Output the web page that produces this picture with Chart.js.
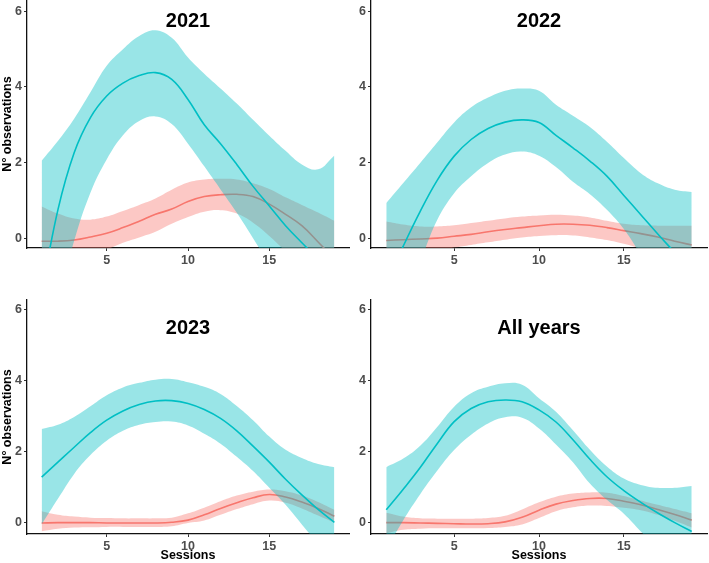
<!DOCTYPE html>
<html><head><meta charset="utf-8">
<script src="https://cdn.jsdelivr.net/npm/chart.js@4.4.1/dist/chart.umd.min.js"></script>
<style>
html,body{margin:0;padding:0;background:#fff;}
#wrap{position:relative;width:709px;height:563px;overflow:hidden;background:#fff;}
canvas{position:absolute;}
</style></head><body>
<div id="wrap">
<canvas id="c1" width="355" height="280" style="left:0px;top:0px"></canvas>
<canvas id="c2" width="354" height="280" style="left:355px;top:0px"></canvas>
<canvas id="c3" width="355" height="283" style="left:0px;top:280px"></canvas>
<canvas id="c4" width="354" height="283" style="left:355px;top:280px"></canvas>
</div>
<script>
const sessions = [1,2,3,4,5,6,7,8,9,10,11,12,13,14,15,16,17,18,19];
const xTicks = [5,10,15];
const yTicks = [0,2,4,6];
const panelTitles = ['2021','2022','2023','All years'];
const xTitle = 'Sessions';
const yTitle = 'N° observations';

// 2021
const cyan21Fit = [-1.45,0.75,2.26,3.19,3.76,4.1,4.3,4.38,4.2,3.67,3.0,2.5,1.95,1.37,0.85,0.33,-0.12,-0.55,-0.95];
const cyan21Hi  = [2.05,2.57,3.16,3.86,4.56,5.0,5.35,5.5,5.3,4.78,4.35,3.96,3.56,3.13,2.71,2.31,1.95,1.82,2.19];
const cyan21Lo  = [-3.5,-1.7,-0.07,1.2,2.08,2.72,3.1,3.22,3.02,2.5,1.9,1.29,0.67,0.0,-0.7,-1.4,-2.2,-3.0,-3.9];
const red21Fit  = [-0.08,-0.08,-0.05,0.03,0.13,0.28,0.45,0.63,0.77,0.97,1.1,1.15,1.16,1.1,0.9,0.63,0.33,-0.1,-0.55];
const red21Hi   = [0.84,0.65,0.52,0.49,0.57,0.72,0.88,1.05,1.28,1.47,1.55,1.57,1.55,1.45,1.3,1.08,0.88,0.68,0.46];
const red21Lo   = [-1.0,-0.8,-0.6,-0.45,-0.3,-0.12,0.02,0.17,0.38,0.56,0.7,0.74,0.65,0.41,0.06,-0.35,-0.75,-1.15,-1.55];

// 2022
const cyan22Fit = [-1.2,-0.21,0.71,1.53,2.17,2.61,2.9,3.07,3.13,3.06,2.72,2.39,2.04,1.64,1.13,0.62,0.11,-0.38,-0.88];
const cyan22Hi  = [0.93,1.46,1.99,2.53,3.06,3.46,3.72,3.9,3.96,3.9,3.53,3.24,2.94,2.55,2.12,1.72,1.45,1.28,1.22];
const cyan22Lo  = [-2.4,-1.5,-0.6,0.48,1.19,1.64,1.99,2.21,2.29,2.18,1.88,1.49,1.16,0.75,0.24,-0.45,-1.2,-1.9,-2.6];
const red22Fit  = [-0.06,-0.04,-0.02,0.0,0.05,0.1,0.17,0.23,0.28,0.33,0.37,0.37,0.34,0.28,0.2,0.12,0.03,-0.08,-0.18];
const red22Hi   = [0.44,0.36,0.31,0.31,0.34,0.4,0.46,0.52,0.57,0.6,0.62,0.6,0.55,0.46,0.38,0.34,0.33,0.33,0.33];
const red22Lo   = [-0.6,-0.5,-0.4,-0.32,-0.25,-0.18,-0.11,-0.04,0.02,0.06,0.08,0.07,0.02,-0.05,-0.15,-0.28,-0.42,-0.58,-0.75];

// 2023
const cyan23Fit = [1.28,1.7,2.12,2.53,2.88,3.14,3.32,3.42,3.43,3.35,3.18,2.93,2.58,2.15,1.7,1.22,0.78,0.37,0.01];
const cyan23Hi  = [2.63,2.75,2.97,3.27,3.58,3.8,3.93,4.02,4.04,3.95,3.82,3.62,3.28,2.88,2.42,2.05,1.82,1.65,1.56];
const cyan23Lo  = [-0.05,0.67,1.37,1.9,2.3,2.58,2.75,2.83,2.84,2.73,2.5,2.22,1.85,1.45,0.98,0.5,-0.05,-0.6,-1.2];
const red23Fit  = [-0.01,0.0,0.0,0.0,-0.01,-0.01,-0.01,-0.01,0.01,0.07,0.22,0.4,0.56,0.7,0.79,0.72,0.58,0.4,0.18];
const red23Hi   = [0.32,0.22,0.17,0.14,0.13,0.12,0.12,0.12,0.14,0.26,0.42,0.6,0.76,0.87,0.93,0.88,0.76,0.58,0.36];
const red23Lo   = [-0.24,-0.17,-0.14,-0.13,-0.12,-0.12,-0.12,-0.12,-0.1,-0.01,0.06,0.22,0.38,0.52,0.62,0.56,0.4,0.2,0.0];

// All years
const cyanAllFit = [0.36,0.94,1.55,2.22,2.84,3.21,3.4,3.45,3.4,3.17,2.83,2.33,1.78,1.29,0.9,0.57,0.27,0.0,-0.25];
const cyanAllHi  = [1.56,1.8,2.16,2.69,3.26,3.64,3.82,3.92,3.88,3.5,3.12,2.6,2.05,1.58,1.24,1.06,0.98,0.98,1.03];
const cyanAllLo  = [-0.75,0.07,0.8,1.46,2.04,2.47,2.79,2.96,2.95,2.65,2.2,1.7,1.1,0.64,0.25,-0.25,-0.75,-1.3,-1.9];
const redAllFit  = [0.0,0.0,-0.01,-0.02,-0.03,-0.04,-0.03,0.02,0.15,0.35,0.52,0.62,0.68,0.68,0.6,0.5,0.37,0.23,0.07];
const redAllHi   = [0.28,0.17,0.12,0.11,0.11,0.11,0.13,0.19,0.37,0.57,0.73,0.82,0.85,0.84,0.75,0.62,0.5,0.38,0.26];
const redAllLo   = [-0.3,-0.2,-0.17,-0.16,-0.16,-0.16,-0.15,-0.12,-0.05,0.13,0.32,0.43,0.48,0.47,0.42,0.35,0.22,0.05,-0.14];

const CYAN = '#00BFC4', RED = '#F8766D';
const CYAN_BAND = 'rgba(0,191,196,0.4)', RED_BAND = 'rgba(248,118,109,0.4)';
const FONT = '"Liberation Sans", Arial, Helvetica, sans-serif';

function xy(vals){ return sessions.map((s,i)=>({x:s,y:vals[i]})); }

const panelTitlePlugin = {
  id: 'panelTitle',
  afterDraw(chart, args, opts) {
    const {ctx, chartArea} = chart;
    ctx.save();
    ctx.font = 'bold 20px ' + FONT;
    ctx.fillStyle = '#000';
    ctx.textAlign = 'center';
    ctx.textBaseline = 'middle';
    ctx.fillText(opts.text, (chartArea.left + chartArea.right) / 2, opts.y);
    ctx.restore();
  }
};

function makeDatasets(cFit, cHi, cLo, rFit, rHi, rLo) {
  const base = {pointRadius:0, pointHoverRadius:0, tension:0.4, capBezierPoints:false};
  return [
    Object.assign({label:'Group 2', data:xy(cFit), borderColor:CYAN, borderWidth:1.6, fill:false}, base),
    Object.assign({label:'Group 2 upper', data:xy(cHi), borderColor:'rgba(0,0,0,0)', borderWidth:0, backgroundColor:CYAN_BAND, fill:'+1'}, base),
    Object.assign({label:'Group 2 lower', data:xy(cLo), borderColor:'rgba(0,0,0,0)', borderWidth:0, fill:false}, base),
    Object.assign({label:'Group 1', data:xy(rFit), borderColor:RED, borderWidth:1.6, fill:false}, base),
    Object.assign({label:'Group 1 upper', data:xy(rHi), borderColor:'rgba(0,0,0,0)', borderWidth:0, backgroundColor:RED_BAND, fill:'+1'}, base),
    Object.assign({label:'Group 1 lower', data:xy(rLo), borderColor:'rgba(0,0,0,0)', borderWidth:0, fill:false}, base)
  ];
}

function makeChart(id, title, titleY, sets, cfg) {
  const tickFont = {family:FONT, weight:'bold', size:12.5};
  new Chart(document.getElementById(id), {
    type: 'line',
    data: {datasets: sets},
    plugins: [panelTitlePlugin],
    options: {
      responsive: false,
      animation: false,
      events: [],
      layout: {autoPadding:false, padding:{left:0, top:cfg.padTop, right:cfg.padRight, bottom:0}},
      plugins: {
        legend: {display:false},
        tooltip: {enabled:false},
        panelTitle: {text:title, y:titleY}
      },
      scales: {
        x: {
          type: 'linear', min: 0.1, max: 19.9,
          afterBuildTicks: s => { s.ticks = xTicks.map(v => ({value:v})); },
          afterFit: s => { s.height = cfg.xH; s.paddingLeft = 0; s.paddingRight = 0; },
          ticks: {font:tickFont, color:'#4D4D4D', padding:2, maxRotation:0, callback: v => String(v)},
          grid: {display:true, drawOnChartArea:false, drawTicks:true, tickLength:3, color:'#333333'},
          border: {display:true, color:'#111111', width:1.3},
          title: {display:cfg.xTitle, text:xTitle, color:'#000', font:{family:FONT, weight:'bold', size:12.5}, padding:{top:0, bottom:0}}
        },
        y: {
          type: 'linear', min: cfg.yMin, max: cfg.yMax,
          afterBuildTicks: s => { s.ticks = yTicks.map(v => ({value:v})); },
          afterFit: s => { s.width = cfg.yW; s.paddingTop = 0; s.paddingBottom = 0; },
          ticks: {font:tickFont, color:'#4D4D4D', padding:2, callback: v => String(v)},
          grid: {display:true, drawOnChartArea:false, drawTicks:true, tickLength:3, color:'#333333'},
          border: {display:true, color:'#111111', width:1.3},
          title: {display:cfg.yTitle, text:yTitle, color:'#000', font:{family:FONT, weight:'bold', size:12.5}, padding:{top:0, bottom:0}}
        }
      }
    }
  });
}

makeChart('c1', panelTitles[0], 21, makeDatasets(cyan21Fit, cyan21Hi, cyan21Lo, red21Fit, red21Hi, red21Lo),
  {padTop:0, padRight:6, xH:32, yW:27, xTitle:false, yTitle:true, yMin:-0.26, yMax:6.3});
makeChart('c2', panelTitles[1], 21, makeDatasets(cyan22Fit, cyan22Hi, cyan22Lo, red22Fit, red22Hi, red22Lo),
  {padTop:0, padRight:2, xH:32, yW:16, xTitle:false, yTitle:false, yMin:-0.26, yMax:6.3});
makeChart('c3', panelTitles[2], 48, makeDatasets(cyan23Fit, cyan23Hi, cyan23Lo, red23Fit, red23Hi, red23Lo),
  {padTop:20, padRight:6, xH:29, yW:27, xTitle:true, yTitle:true, yMin:-0.32, yMax:6.26});
makeChart('c4', panelTitles[3], 48, makeDatasets(cyanAllFit, cyanAllHi, cyanAllLo, redAllFit, redAllHi, redAllLo),
  {padTop:20, padRight:2, xH:29, yW:16, xTitle:true, yTitle:false, yMin:-0.32, yMax:6.26});
</script>
</body></html>
